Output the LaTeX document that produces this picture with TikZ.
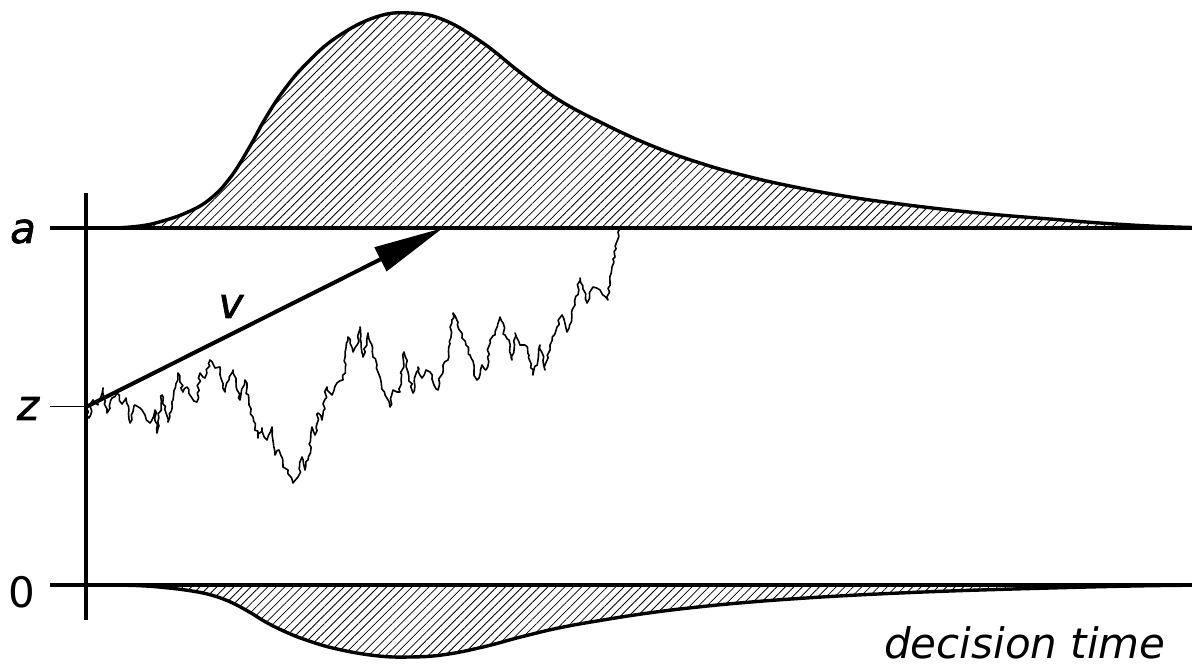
\documentclass[tikz,border=0pt]{standalone}
\usepackage{fontspec}
\setmainfont{DejaVu Sans}
\newfontfamily\heavyfont[FakeBold=1.5]{DejaVu Sans}
\usetikzlibrary{patterns.meta,decorations.pathmorphing,arrows.meta}
\begin{document}
\begin{tikzpicture}[x=1pt,y=-1pt,
  baseline/.style={line width=4pt},
  axisline/.style={line width=3.5pt},
  density/.style={line width=3.4pt,line join=round},
  hatch/.style={pattern={Lines[angle=45,distance=6pt,line width=0.8pt]}},
  walk/.style={line width=1.6pt,line join=round,decorate,decoration={random steps,segment length=4pt,amplitude=1.6pt}},
  lab/.style={anchor=base,inner sep=0pt,font=\fontsize{42}{50}\selectfont},
  drift/.style={line width=4pt,-{Triangle[length=70pt,width=26pt]}}
]
\useasboundingbox (0,0) rectangle (1192,668);
\pgfmathsetseed{4217}

\def\upper{(115,228) (140,226) (161,221.5) (188,212) (210,199) (230,178) (249,148) (265,119) (284,90) (307,63) (337,37) (376,17) (410,13) (444,20) (483,43) (521,73) (559,100) (600,122) (650,145) (700,163) (750,177) (800,188) (850,197) (900,204) (950,210) (1000,215) (1050,219) (1100,223) (1150,226) (1192,227.5)}
\def\lower{(115,585) (140,585.7) (161,587.2) (188,590.4) (210,594.7) (230,601.8) (249,611.8) (265,621.6) (284,631.2) (307,640.3) (337,649) (376,655.7) (410,657) (444,654.7) (483,647) (521,636.9) (559,627.9) (600,620.5) (650,612.8) (700,606.8) (750,602.1) (800,598.4) (850,595.4) (900,593) (950,591) (1000,589.4) (1050,588) (1100,586.7) (1150,585.7) (1192,585.2)}

% hatched densities
\fill[hatch] plot[smooth,tension=0.7] coordinates {\upper} -- cycle;
\draw[density] plot[smooth,tension=0.7] coordinates {\upper};
\fill[hatch] plot[smooth,tension=0.7] coordinates {\lower} -- cycle;
\draw[density] plot[smooth,tension=0.7] coordinates {\lower};

% coordinates
\coordinate (aL) at (50,228);
\coordinate (aR) at (1192,228);
\coordinate (oL) at (50,585);
\coordinate (oR) at (1192,585);
\coordinate (axT) at (86,193);
\coordinate (axB) at (86,620);
\coordinate (zL) at (50,406);
\coordinate (zR) at (86,406);
\coordinate (start) at (86,407);
\coordinate (tip) at (443,228);

% random walk
\draw[walk] plot coordinates {(86,407) (89,418) (93,400) (98,405) (103,388) (107,413) (112,398) (117,393) (122,404) (126,398) (130,423) (135,405) (140,408) (145,415) (150,423) (155,410) (157,433) (162,395) (168,422) (173,400) (178,373) (183,392) (187,387) (192,398) (197,402) (200,373) (205,378) (210,360) (215,368) (220,367) (225,392) (229,380) (233,370) (237,390) (240,400) (245,380) (249,405) (253,417) (258,438) (262,428) (267,440) (272,427) (275,455) (279,450) (283,467) (288,470) (293,483) (298,477) (302,457) (305,470) (308,460) (312,427) (315,435) (318,413) (322,420) (327,387) (332,395) (337,383) (343,380) (348,337) (353,352) (357,345) (360,327) (363,357) (368,333) (373,357) (377,365) (380,377) (385,395) (390,407) (393,390) (397,392) (400,392) (404,352) (408,372) (413,393) (418,367) (422,378) (426,370) (430,372) (434,385) (438,390) (443,365) (448,360) (453,313) (458,322) (462,338) (466,345) (470,355) (474,372) (477,380) (482,365) (486,370) (490,340) (495,335) (500,317) (505,335) (509,340) (512,360) (515,333) (520,345) (525,345) (529,355) (533,375) (538,360) (540,345) (545,370) (550,345) (557,327) (562,315) (567,332) (575,305) (580,278) (587,303) (593,287) (600,290) (608,300) (612,267) (615,257) (618,232) (620,228)};

% boundaries and axis
\draw[baseline] (aL) -- (aR);
\draw[baseline] (oL) -- (oR);
\draw[axisline] (axT) -- (axB);
\draw[line width=1pt] (zL) -- (zR);

% drift arrow
\draw[drift] (start) -- (tip);

% labels
\node[lab] (la) at (23,243) {\heavyfont\itshape a};
\node[lab] (lz) at (28,420) {\heavyfont\itshape z};
\node[lab] (l0) at (22,607) {0};
\node[lab] (lv) at (231,318) {\heavyfont\itshape v};
\node[lab] (ldt) at (1025,658) {\itshape decision time};
\end{tikzpicture}
\end{document}
